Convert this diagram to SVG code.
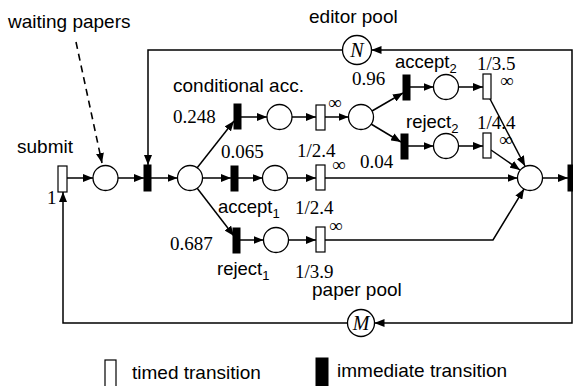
<svg xmlns="http://www.w3.org/2000/svg" width="573" height="386" viewBox="0 0 573 386">
<style>
.p{fill:#fff;stroke:#000;stroke-width:1.3}
.tt{fill:#fff;stroke:#000;stroke-width:1.2}
.ti{fill:#000;stroke:#000;stroke-width:1}
.c{fill:none;stroke:#000;stroke-width:1.5}
.d{fill:none;stroke:#000;stroke-width:1.6;stroke-dasharray:7 5}
.s{font-family:"Liberation Sans",Arial,sans-serif;font-size:19px;fill:#000}
.l{font-family:"Liberation Sans",Arial,sans-serif;font-size:18.5px;fill:#000}
.n{font-family:"Liberation Serif","Times New Roman",serif;font-size:19px;fill:#000}
.i{font-family:"Liberation Serif","Times New Roman",serif;font-size:20px;font-style:italic;fill:#000}
</style>
<defs>
<marker id="a" viewBox="0 0 10 8" refX="10" refY="4" markerWidth="10" markerHeight="8" markerUnits="userSpaceOnUse" orient="auto">
<path d="M0,0 L10,4 L0,8 z" fill="#000"/>
</marker>
</defs>
<g id="connectors">
<line class="c" x1="67" y1="178" x2="93" y2="178" marker-end="url(#a)"/>
<line class="c" x1="118" y1="178" x2="144" y2="178" marker-end="url(#a)"/>
<line class="c" x1="151" y1="178" x2="177.5" y2="178" marker-end="url(#a)"/>
<line class="c" x1="197" y1="168" x2="234" y2="121" marker-end="url(#a)"/>
<line class="c" x1="202.5" y1="178" x2="231" y2="178" marker-end="url(#a)"/>
<line class="c" x1="197" y1="188" x2="234" y2="236" marker-end="url(#a)"/>
<line class="c" x1="241" y1="117" x2="267" y2="117" marker-end="url(#a)"/>
<line class="c" x1="292" y1="117" x2="316" y2="117" marker-end="url(#a)"/>
<line class="c" x1="325" y1="117" x2="348.5" y2="117" marker-end="url(#a)"/>
<line class="c" x1="372" y1="111" x2="403" y2="93" marker-end="url(#a)"/>
<line class="c" x1="371" y1="124" x2="401" y2="142" marker-end="url(#a)"/>
<line class="c" x1="410" y1="87" x2="433.5" y2="87" marker-end="url(#a)"/>
<line class="c" x1="458.5" y1="87" x2="483" y2="87" marker-end="url(#a)"/>
<line class="c" x1="408" y1="146" x2="433.5" y2="146" marker-end="url(#a)"/>
<line class="c" x1="458.5" y1="146" x2="483" y2="146" marker-end="url(#a)"/>
<line class="c" x1="489" y1="97" x2="525" y2="166" marker-end="url(#a)"/>
<line class="c" x1="491" y1="150" x2="520" y2="170" marker-end="url(#a)"/>
<line class="c" x1="238" y1="178" x2="262.5" y2="178" marker-end="url(#a)"/>
<line class="c" x1="287.5" y1="178" x2="316" y2="178" marker-end="url(#a)"/>
<line class="c" x1="325" y1="178" x2="517.5" y2="178" marker-end="url(#a)"/>
<line class="c" x1="240" y1="240" x2="263.5" y2="240" marker-end="url(#a)"/>
<line class="c" x1="288.5" y1="240" x2="316" y2="240" marker-end="url(#a)"/>
<polyline class="c" points="325,240 493,240 524,189" marker-end="url(#a)"/>
<line class="c" x1="542.5" y1="178" x2="568" y2="178" marker-end="url(#a)"/>
<polyline class="c" points="572,165 572,50 371.5,50" marker-end="url(#a)"/>
<polyline class="c" points="342.5,50 148,50 148,165" marker-end="url(#a)"/>
<polyline class="c" points="572,191 572,323 374.5,323" marker-end="url(#a)"/>
<polyline class="c" points="347.5,323 63,323 63,192" marker-end="url(#a)"/>
<line class="d" x1="76" y1="42" x2="102" y2="163" marker-end="url(#a)"/>
</g>
<g id="submit"><rect class="tt" x="58" y="166" width="9" height="26"/><text class="s" x="17" y="153">submit</text><text class="n" x="47" y="204">1</text></g>
<g id="waiting"><circle class="p" cx="105.5" cy="178" r="12.5"/><text class="s" x="8" y="28">waiting papers</text></g>
<g id="t_start"><rect class="ti" x="144" y="165" width="7" height="26"/></g>
<g id="p_review"><circle class="p" cx="190" cy="178" r="12.5"/></g>
<g id="t_cond"><rect class="ti" x="234" y="104" width="7" height="25"/><text class="s" x="173" y="92">conditional acc.</text><text class="n" x="173" y="123">0.248</text></g>
<g id="p_cond"><circle class="p" cx="279.5" cy="117" r="12.5"/></g>
<g id="tt_cond"><rect class="tt" x="316" y="105" width="9" height="25"/><text class="n" x="328" y="109">∞</text><text class="n" x="297" y="157">1/2.4</text></g>
<g id="p_split"><circle class="p" cx="361" cy="117" r="12.5"/></g>
<g id="t_acc2"><rect class="ti" x="403" y="75" width="7" height="25"/><text class="l" x="395" y="68">accept<tspan font-size="13" dy="5">2</tspan></text><text class="n" x="352" y="85">0.96</text></g>
<g id="p_acc2"><circle class="p" cx="446" cy="87" r="12.5"/></g>
<g id="tt_acc2"><rect class="tt" x="483" y="74" width="8" height="25"/><text class="n" x="477" y="70">1/3.5</text><text class="n" x="500" y="87">∞</text></g>
<g id="t_rej2"><rect class="ti" x="401" y="134" width="7" height="25"/><text class="l" x="406" y="128">reject<tspan font-size="13" dy="5">2</tspan></text><text class="n" x="360" y="168">0.04</text></g>
<g id="p_rej2"><circle class="p" cx="446" cy="146" r="12.5"/></g>
<g id="tt_rej2"><rect class="tt" x="483" y="133" width="8" height="25"/><text class="n" x="477" y="129">1/4.4</text><text class="n" x="499" y="146">∞</text></g>
<g id="t_acc1"><rect class="ti" x="231" y="166" width="7" height="25"/><text class="n" x="221" y="158">0.065</text><text class="l" x="218" y="213">accept<tspan font-size="13" dy="5">1</tspan></text></g>
<g id="p_acc1"><circle class="p" cx="275" cy="178" r="12.5"/></g>
<g id="tt_acc1"><rect class="tt" x="316" y="165" width="9" height="25"/><text class="n" x="332" y="171">∞</text><text class="n" x="295" y="214">1/2.4</text></g>
<g id="t_rej1"><rect class="ti" x="233" y="228" width="7" height="25"/><text class="n" x="170" y="250">0.687</text><text class="l" x="217" y="275">reject<tspan font-size="13" dy="5">1</tspan></text></g>
<g id="p_rej1"><circle class="p" cx="276" cy="240" r="12.5"/></g>
<g id="tt_rej1"><rect class="tt" x="316" y="227" width="9" height="25"/><text class="n" x="329" y="232">∞</text><text class="n" x="295" y="278">1/3.9</text></g>
<g id="p_done"><circle class="p" cx="530" cy="178" r="12.5"/></g>
<g id="t_release"><rect class="ti" x="568" y="165" width="8" height="26"/></g>
<g id="editor_pool"><circle class="p" cx="357" cy="50" r="14.5"/><text class="i" x="357" y="57" text-anchor="middle">N</text><text class="s" x="309" y="23">editor pool</text></g>
<g id="paper_pool"><circle class="p" cx="361" cy="323" r="13.5"/><text class="i" x="361" y="330" text-anchor="middle">M</text><text class="s" x="312" y="296">paper pool</text></g>
<g id="legend_timed"><rect class="tt" x="105" y="360" width="11" height="27"/><text class="s" x="132" y="379">timed transition</text></g>
<g id="legend_immediate"><rect class="ti" x="316" y="358" width="12" height="28"/><text class="s" x="337" y="377">immediate transition</text></g>
</svg>
